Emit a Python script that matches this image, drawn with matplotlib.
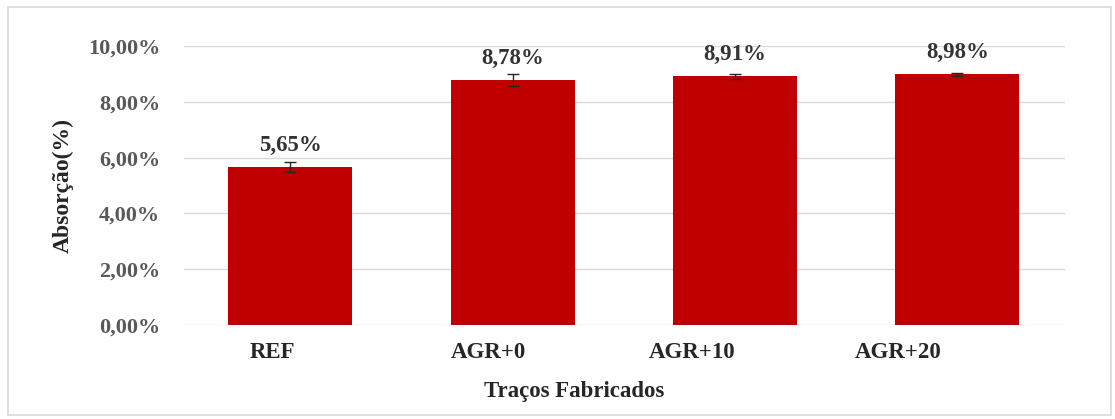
"""Bar chart of water absorption per mix, with standard deviation bars."""

import matplotlib

matplotlib.use("Agg")

import matplotlib.pyplot as plt
import numpy as np
from matplotlib.patches import Rectangle
from matplotlib.ticker import FuncFormatter

TRACOS = ["REF", "AGR+0", "AGR+10", "AGR+20"]
ABSORCAO = [5.65, 8.78, 8.91, 8.98]
DESVIO = [0.18, 0.20, 0.10, 0.05]
Y_TICKS = [0, 2, 4, 6, 8, 10]

BAR_COLOR = "#c00000"
GRID_COLOR = "#d9d9d9"
FONT = ["Liberation Serif", "DejaVu Serif"]


def pct(value, _pos=None):
    return f"{value:.2f}%".replace(".", ",")


def main():
    plt.rcParams["font.family"] = FONT
    plt.rcParams["font.weight"] = "bold"

    fig = plt.figure(figsize=(11.15, 4.19), dpi=100)
    fig.patch.set_facecolor("white")
    fig.add_artist(
        Rectangle((0.007, 0.01), 0.989, 0.973, transform=fig.transFigure,
                  fill=False, edgecolor=GRID_COLOR, linewidth=1.2)
    )

    ax = fig.add_axes([0.165, 0.2243, 0.790, 0.6659])
    x = np.arange(len(TRACOS))

    ax.bar(x, ABSORCAO, width=0.558, color=BAR_COLOR, zorder=2)
    ax.errorbar(x, ABSORCAO, yerr=DESVIO, fmt="none", ecolor="#262626",
                elinewidth=1.0, capsize=4, capthick=1.0, zorder=3)

    for xi, val in zip(x, ABSORCAO):
        ax.annotate(pct(val), (xi, val), xytext=(0, 8), textcoords="offset points",
                    ha="center", va="bottom", fontsize=16.5, fontweight="bold",
                    color="#333333")

    ax.set_xlim(-0.479, 3.484)
    ax.set_ylim(0, 10)
    ax.set_yticks(Y_TICKS)
    ax.yaxis.set_major_formatter(FuncFormatter(pct))

    # category labels sit a little left of their bars
    nudges = [-0.079, -0.108, -0.193, -0.268]
    ax.set_xticks(x + np.array(nudges))
    ax.set_xticklabels(TRACOS)

    ax.tick_params(axis="x", length=0, pad=12, labelsize=16.5, labelcolor="#262626")
    ax.tick_params(axis="y", length=0, pad=17, labelsize=16, labelcolor="#595959")

    ax.grid(axis="y", color=GRID_COLOR, linewidth=1.0, zorder=0)
    ax.set_axisbelow(True)
    for side in ["top", "right", "left", "bottom"]:
        ax.spines[side].set_visible(False)

    ax.set_xlabel("Traços Fabricados", fontsize=16.5, fontweight="bold", color="#262626")
    ax.xaxis.set_label_coords(0.443, -0.237)
    ax.xaxis.label.set_va("center")
    ax.set_ylabel("Absorção(%)", fontsize=17, fontweight="bold", color="#262626")
    ax.yaxis.set_label_coords(-0.137, 0.5)
    ax.yaxis.label.set_va("center")

    fig.savefig("out.png", dpi=100)
    plt.close(fig)


if __name__ == "__main__":
    main()
